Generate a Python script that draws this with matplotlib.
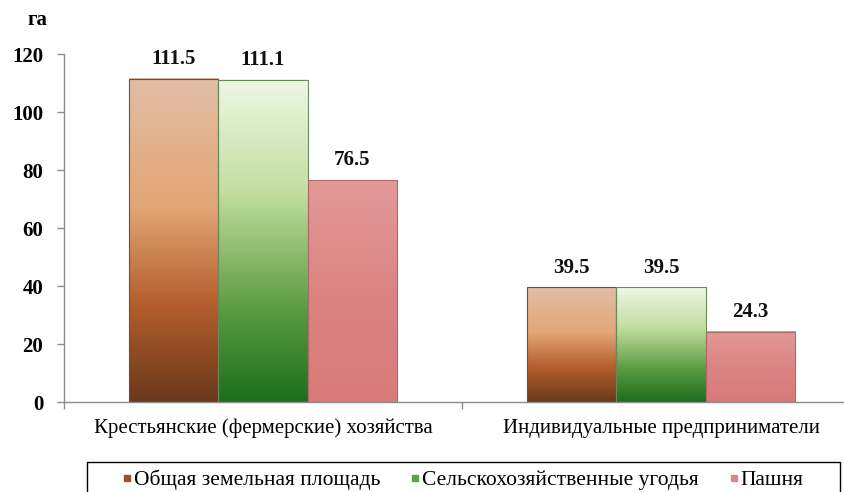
import numpy as np
import matplotlib
matplotlib.use("Agg")
import matplotlib.pyplot as plt
from matplotlib.colors import LinearSegmentedColormap
from matplotlib.patches import Rectangle
from matplotlib.lines import Line2D

categories = ["Крестьянские (фермерские) хозяйства", "Индивидуальные предприниматели"]
series_names = ["Общая земельная площадь", "Сельскохозяйственные угодья", "Пашня"]
total_area = [111.5, 39.5]
agri_land = [111.1, 39.5]
arable = [76.5, 24.3]
series_values = [total_area, agri_land, arable]
value_labels = [["111.5", "39.5"], ["111.1", "39.5"], ["76.5", "24.3"]]
yticks = [0, 20, 40, 60, 80, 100, 120]
unit_label = "га"

# gradient stops, bottom (0) -> top (1)
grad_stops = [
    [(0.0, "#6a381c"), (0.3, "#b35e2c"), (0.6, "#e3a574"), (1.0, "#e1bea6")],
    [(0.0, "#1c6e1c"), (0.3, "#5e9e44"), (0.65, "#c2dea0"), (1.0, "#eef7e6")],
    [(0.0, "#d87a7a"), (0.5, "#dc8484"), (1.0, "#e29a98")],
]
edge_colors = ["#7a4a30", "#6a8a5a", "#b06868"]
legend_colors = ["#9a5028", "#5ea04a", "#d88888"]

plt.rcParams["font.family"] = ["Liberation Serif", "DejaVu Serif"]

fig = plt.figure(figsize=(8.44, 4.92), dpi=100)
ax = fig.add_axes([64 / 844, 90 / 492, 796 / 844, 348 / 492])

x = np.arange(len(categories))
width = 0.224
offsets = [-width, 0, width]
gradient = np.linspace(0, 1, 256).reshape(-1, 1)

for i, vals in enumerate(series_values):
    cmap = LinearSegmentedColormap.from_list(f"g{i}", grad_stops[i])
    bars = ax.bar(x + offsets[i], vals, width, facecolor="none",
                  edgecolor=edge_colors[i], linewidth=0.8, zorder=3)
    for j, b in enumerate(bars):
        x0 = b.get_x()
        x1 = x0 + b.get_width()
        h = b.get_height()
        ax.imshow(gradient, extent=[x0, x1, 0, h], origin="lower",
                  aspect="auto", cmap=cmap, zorder=2, interpolation="bicubic")
        ax.annotate(value_labels[i][j], (x0 + b.get_width() / 2, h),
                    xytext=(0, 7), textcoords="offset points",
                    ha="center", va="bottom", fontsize=15, fontweight="bold",
                    color="#111111")

ax.set_xlim(-0.5, 1.5)
ax.set_ylim(0, 120)
ax.set_yticks(yticks)
ax.set_yticklabels([str(t) for t in yticks], fontsize=15, fontweight="bold")
ax.set_xticks(x)
ax.set_xticklabels(categories, fontsize=15)
ax.set_xticks([-0.5, 0.5, 1.5], minor=True)
ax.tick_params(axis="x", which="major", length=0, pad=12)
ax.tick_params(axis="x", which="minor", length=5, color="#8c8c8c", width=1, direction="out")
ax.tick_params(axis="y", length=5, color="#8c8c8c", width=1, pad=10, direction="out")

for s in ["top", "right"]:
    ax.spines[s].set_visible(False)
for s in ["left", "bottom"]:
    ax.spines[s].set_color("#8c8c8c")
    ax.spines[s].set_linewidth(1)

fig.text(37 / 844, 1 - 20 / 492, unit_label, fontsize=15, fontweight="bold",
         ha="center", va="center")

# legend frame (cut off by the bottom edge as in the original)
fig.patches.append(Rectangle((87 / 844, -0.05), (840 - 87) / 844, 0.05 + 30 / 492,
                             transform=fig.transFigure, facecolor="none",
                             edgecolor="black", linewidth=1.0, zorder=5))

handles = [Line2D([], [], marker="s", linestyle="none", markersize=4.6,
                  markerfacecolor=c, markeredgecolor=c) for c in legend_colors]
leg = fig.legend(handles, series_names, loc="center left",
                 bbox_to_anchor=(124 / 844, 1 - 480 / 492, (803 - 124) / 844, 0.0),
                 mode="expand", ncol=3, fontsize=15.5, frameon=False,
                 handlelength=0.3, handletextpad=0.15,
                 borderpad=0, borderaxespad=0)

fig.savefig("out.png", dpi=100)
